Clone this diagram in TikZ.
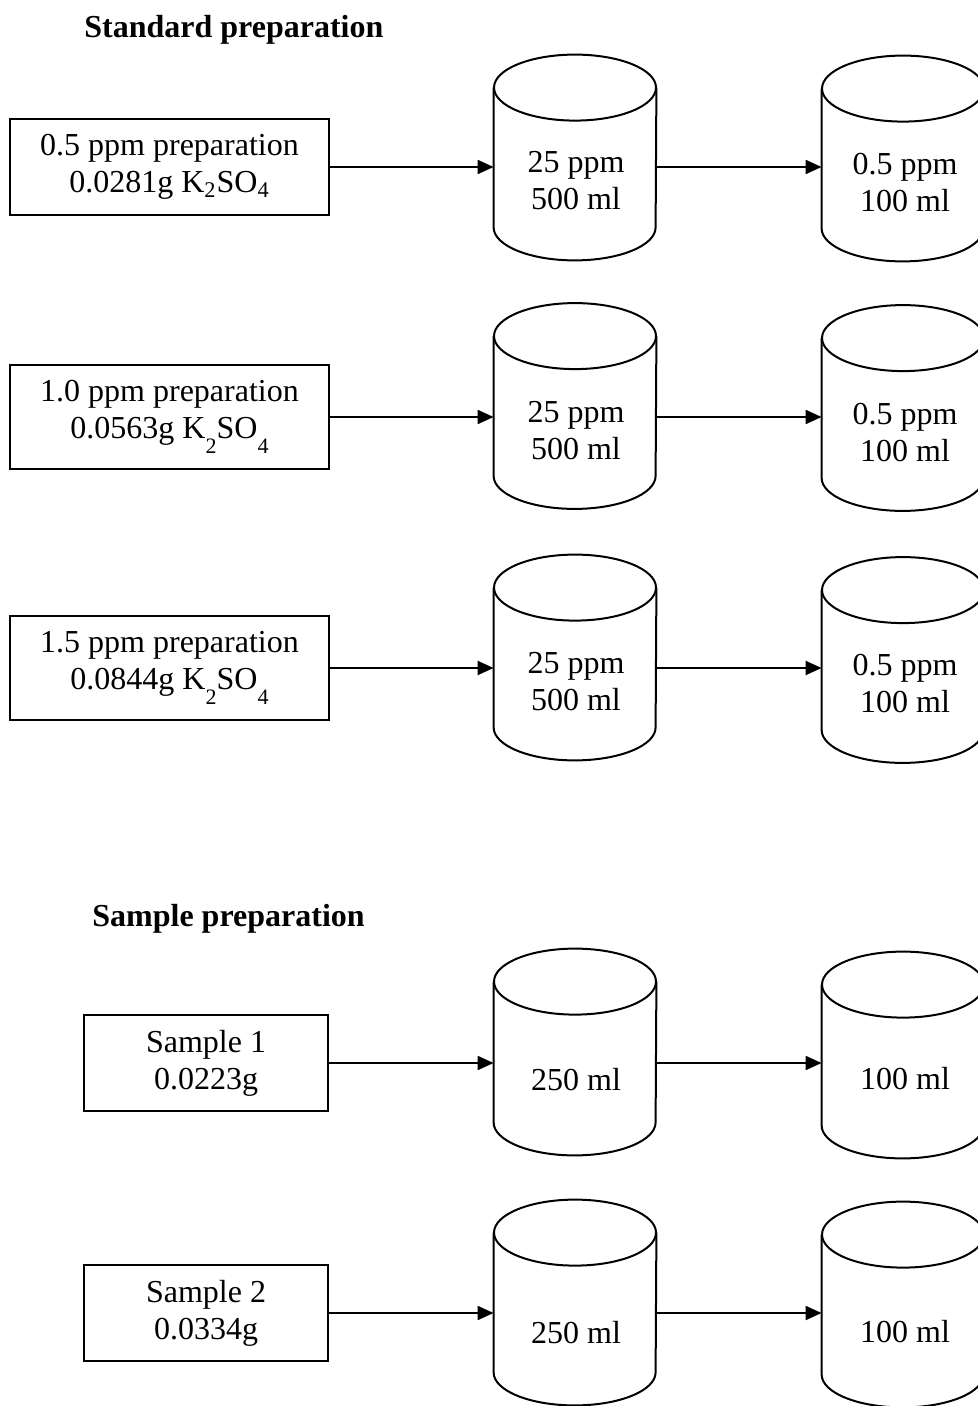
\documentclass[tikz,border=0pt]{standalone}
\usepackage{fontspec}
\setmainfont{Liberation Serif}
\usetikzlibrary{calc,arrows.meta}
\newcommand\lowsub[1]{\raisebox{-1.0ex}{\fontsize{11}{11}\selectfont #1}}
\newcommand\drawcyl[1]{%
  \draw[cylline] ([yshift=-16.5pt]#1.north) ellipse[x radius=40.5pt, y radius=16.5pt];
  \draw[cylline] ([yshift=-16.5pt]#1.north west) -- ([yshift=16.5pt]#1.south west)
     arc[start angle=180, end angle=360, x radius=40.5pt, y radius=16.5pt]
     -- ([yshift=-16.5pt]#1.north east);
}
\tikzset{
  boxnode/.style={draw, line width=1pt, align=center, inner sep=0pt,
    font=\fontsize{16}{18.5}\selectfont},
  cylbody/.style={inner sep=0pt, minimum width=81pt},
  cyltext/.style={align=center, inner sep=0pt, font=\fontsize{16}{18.5}\selectfont},
  cylline/.style={line width=1pt},
  flow/.style={-{Triangle[length=8pt,width=7pt]}, line width=1pt},
  titletext/.style={anchor=base west, inner sep=0pt, font=\bfseries\fontsize{16}{18}\selectfont}
}
\begin{document}
\begin{tikzpicture}[x=0.5pt,y=-0.5pt]
\useasboundingbox (0,0) rectangle (978,1406);
\clip (0,0) rectangle (978,1406);

% titles
\node[titletext] (t1) at (84,38) {Standard preparation};
\node[titletext] (t2) at (92,926) {Sample preparation};

% standard boxes
\node[boxnode, minimum width=159.5pt, minimum height=48pt] (b1) at (169.5,167)
  {0.5 ppm preparation\\0.0281g K\textsubscript{2}SO\textsubscript{4}};
\node[boxnode, minimum width=159.5pt, minimum height=52pt] (b2) at (169.5,417)
  {1.0 ppm preparation\\0.0563g K\lowsub{2}SO\lowsub{4}};
\node[boxnode, minimum width=159.5pt, minimum height=52pt] (b3) at (169.5,668)
  {1.5 ppm preparation\\0.0844g K\lowsub{2}SO\lowsub{4}};

% sample boxes
\node[boxnode, minimum width=122pt, minimum height=48pt] (s1) at (206,1063)
  {Sample 1\\0.0223g};
\node[boxnode, minimum width=122pt, minimum height=48pt] (s2) at (206,1313)
  {Sample 2\\0.0334g};

% cylinder bodies (standard)
\node[cylbody, minimum height=102.5pt] (m1) at (575,157.5) {};
\node[cylbody, minimum height=102.5pt] (r1) at (903,158.5) {};
\node[cylbody, minimum height=102.5pt] (m2) at (575,406) {};
\node[cylbody, minimum height=102.5pt] (r2) at (903,408) {};
\node[cylbody, minimum height=102.5pt] (m3) at (575,657.5) {};
\node[cylbody, minimum height=102.5pt] (r3) at (903,660) {};
% cylinder bodies (sample)
\node[cylbody, minimum height=103pt] (n1) at (575,1052) {};
\node[cylbody, minimum height=103pt] (q1) at (903,1055) {};
\node[cylbody, minimum height=102.5pt] (n2) at (575,1302.5) {};
\node[cylbody, minimum height=102.5pt] (q2) at (903,1304.5) {};

\foreach \c in {m1,r1,m2,r2,m3,r3,n1,q1,n2,q2} {\drawcyl{\c}}

% cylinder texts
\node[cyltext] (m1t) at (576,181) {25 ppm\\500 ml};
\node[cyltext] (r1t) at (905,183) {0.5 ppm\\100 ml};
\node[cyltext] (m2t) at (576,431) {25 ppm\\500 ml};
\node[cyltext] (r2t) at (905,433) {0.5 ppm\\100 ml};
\node[cyltext] (m3t) at (576,682) {25 ppm\\500 ml};
\node[cyltext] (r3t) at (905,684) {0.5 ppm\\100 ml};
\node[cyltext] (n1t) at (576,1080) {250 ml};
\node[cyltext] (q1t) at (905,1079) {100 ml};
\node[cyltext] (n2t) at (576,1333) {250 ml};
\node[cyltext] (q2t) at (905,1332) {100 ml};

% arrows
\foreach \b/\m/\r in {b1/m1/r1, b2/m2/r2, b3/m3/r3, s1/n1/q1, s2/n2/q2} {
  \draw[flow] (\b.east) -- (\b.east -| \m.west);
  \draw[flow] (\b.east -| \m.east) -- (\b.east -| \r.west);
}
\end{tikzpicture}
\end{document}
